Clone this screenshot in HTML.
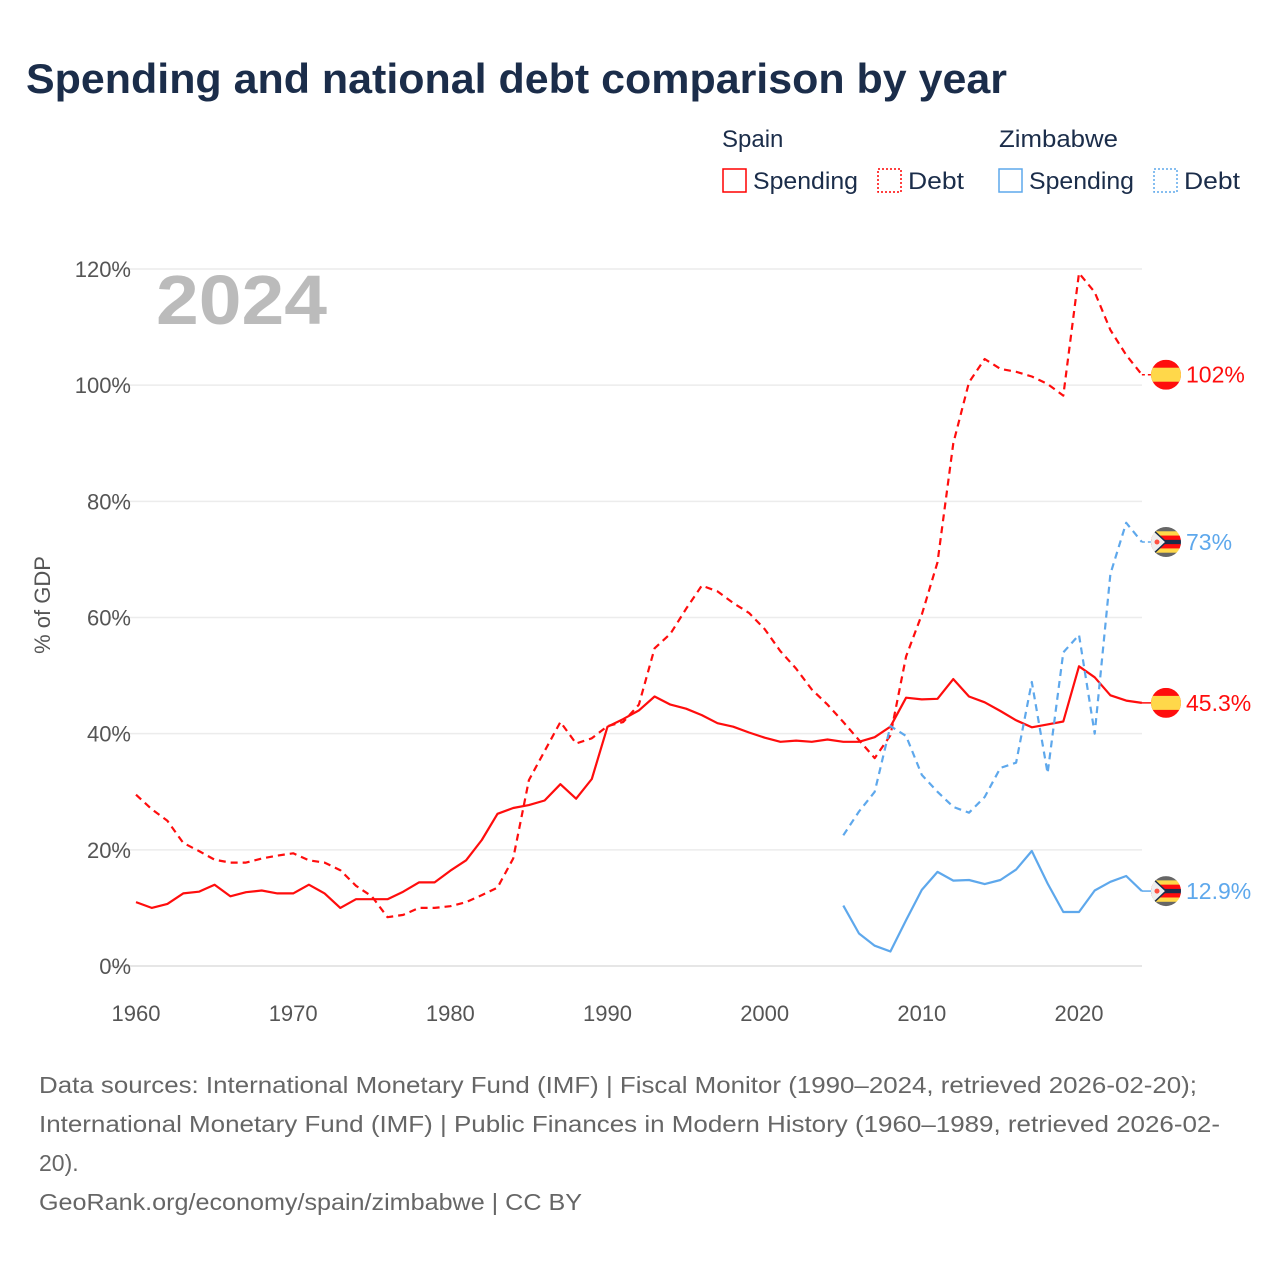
<!DOCTYPE html>
<html><head><meta charset="utf-8"><style>
body{margin:0;background:#fff;font-family:"Liberation Sans",sans-serif}
</style></head><body>
<svg width="1280" height="1280" viewBox="0 0 1280 1280" xmlns="http://www.w3.org/2000/svg" font-family="Liberation Sans, sans-serif">
<text x="26" y="93" font-size="42" font-weight="bold" fill="#1b2d4a" textLength="981" lengthAdjust="spacingAndGlyphs">Spending and national debt comparison by year</text>
<g font-size="24" fill="#1b2d4a">
<text x="722" y="147">Spain</text>
<rect x="723" y="169" width="23" height="23" fill="none" stroke="#ff0000" stroke-width="1.5"/>
<text x="753" y="189" textLength="105" lengthAdjust="spacingAndGlyphs">Spending</text>
<rect x="878" y="169" width="23" height="23" fill="none" stroke="#ff0000" stroke-width="1.5" stroke-dasharray="2,2"/>
<text x="908" y="189" textLength="56" lengthAdjust="spacingAndGlyphs">Debt</text>
<text x="999" y="147" textLength="119" lengthAdjust="spacingAndGlyphs">Zimbabwe</text>
<rect x="999" y="169" width="23" height="23" fill="none" stroke="#5ea8ec" stroke-width="1.5"/>
<text x="1029" y="189" textLength="105" lengthAdjust="spacingAndGlyphs">Spending</text>
<rect x="1154" y="169" width="23" height="23" fill="none" stroke="#5ea8ec" stroke-width="1.5" stroke-dasharray="2,2"/>
<text x="1184" y="189" textLength="56" lengthAdjust="spacingAndGlyphs">Debt</text>
</g>
<g id="grid"></g>
<text x="156" y="324" font-size="70" font-weight="bold" fill="#bbbbbb" textLength="171" lengthAdjust="spacingAndGlyphs">2024</text>
<text transform="translate(50,605) rotate(-90)" text-anchor="middle" font-size="22" fill="#555">% of GDP</text>
<g id="series"></g>
<g id="ends"></g>
<g font-size="23" fill="#666" lengthAdjust="spacingAndGlyphs">
<text x="39" y="1093" textLength="1158" lengthAdjust="spacingAndGlyphs">Data sources: International Monetary Fund (IMF) | Fiscal Monitor (1990–2024, retrieved 2026-02-20);</text>
<text x="39" y="1132" textLength="1181" lengthAdjust="spacingAndGlyphs">International Monetary Fund (IMF) | Public Finances in Modern History (1960–1989, retrieved 2026-02-</text>
<text x="39" y="1171">20).</text>
<text x="39" y="1210" textLength="543" lengthAdjust="spacingAndGlyphs">GeoRank.org/economy/spain/zimbabwe | CC BY</text>
</g>
</svg>
<script>
const yTicks=[0,20,40,60,80,100,120];
const xTicks=[1960,1970,1980,1990,2000,2010,2020];
const spainYears=[];for(let y=1960;y<=2024;y++)spainYears.push(y);
const zimYears=[];for(let y=2005;y<=2024;y++)zimYears.push(y);
const spainSpending=[11,10,10.7,12.5,12.8,14,12,12.7,13,12.5,12.5,14,12.5,10,11.5,11.5,11.5,12.8,14.4,14.4,16.4,18.2,21.7,26.2,27.2,27.7,28.5,31.3,28.8,32.2,41.2,42.5,44,46.4,45,44.3,43.2,41.8,41.2,40.2,39.3,38.6,38.8,38.6,39,38.6,38.6,39.4,41.2,46.2,45.9,46,49.4,46.4,45.4,43.9,42.3,41.1,41.6,42.1,51.6,49.7,46.6,45.7,45.3];
const spainDebt=[29.5,27,25,21.2,19.8,18.3,17.8,17.8,18.5,19,19.4,18.2,17.8,16.5,13.8,12,8.4,8.8,10,10,10.3,11,12.2,13.5,18.5,32,37,42,38.3,39.2,41.3,42,45,54.7,57.2,61.5,65.5,64.5,62.5,60.8,58,54.2,51.2,47.6,45,42,38.9,35.8,39.7,53.3,60.5,69.5,90,100.5,104.5,102.8,102.3,101.5,100.2,98.2,119.3,116,109.5,105.2,101.8];
const zimSpending=[10.4,5.6,3.5,2.5,7.9,13.1,16.2,14.7,14.8,14.1,14.8,16.6,19.8,14.2,9.3,9.3,13,14.5,15.5,12.9];
const zimDebt=[22.5,26.6,30,41.3,39.6,32.9,30,27.4,26.4,29.1,34.1,35,48.9,33.2,54,57,40,67.5,76.3,73];
const endLabels=["45.3%","102%","12.9%","73%"];
const NS="http://www.w3.org/2000/svg";
const X=y=>136+(y-1960)*(1079-136)/60;
const Y=v=>966-v*(966-269)/120;
function mk(t,a,p){const e=document.createElementNS(NS,t);for(const k in a)e.setAttribute(k,a[k]);p.appendChild(e);return e;}
const grid=document.getElementById('grid');
yTicks.forEach(v=>{
 const l=mk('line',{x1:110,x2:1142,y1:Y(v),y2:Y(v),stroke:v===0?'#ddd':'#ececec','stroke-width':1.5},grid);
 
 
 const t=mk('text',{x:131,y:Y(v)+8,'text-anchor':'end','font-size':22,fill:'#555'},grid);t.textContent=v+'%';
 
 
});
xTicks.forEach(y=>{
 const t=mk('text',{x:X(y),y:1021,'text-anchor':'middle','font-size':22,fill:'#555'},grid);t.textContent=y;
 
 
});
const series=document.getElementById('series');
function line(years,vals,color,dash,name){
 const d=vals.map((v,i)=>(i?'L':'M')+X(years[i]).toFixed(1)+','+Y(v).toFixed(1)).join(' ');
 const p=mk('path',{d:d,fill:'none',stroke:color,'stroke-width':2.2,'stroke-dasharray':dash?'7,5':'none','stroke-linejoin':'round'},series);
 
 
}
line(spainYears,spainDebt,'#ff0d0d',true,'spain-debt-line');
line(spainYears,spainSpending,'#ff0d0d',false,'spain-spending-line');
line(zimYears,zimDebt,'#5ea8ec',true,'zimbabwe-debt-line');
line(zimYears,zimSpending,'#5ea8ec',false,'zimbabwe-spending-line');
const ends=document.getElementById('ends');
const lastVals=[spainSpending[spainSpending.length-1],spainDebt[spainDebt.length-1],zimSpending[zimSpending.length-1],zimDebt[zimDebt.length-1]];
lastVals.forEach((v,i)=>{
 const spain=i<2,col=spain?'#ff0d0d':'#5ea8ec',y=Y(v);
 mk('line',{x1:X(2024),x2:1152,y1:y,y2:y,stroke:col,'stroke-width':1.5,'stroke-dasharray':i%2?'3,3':'none'},ends);
 const g=mk('g',{},ends);
 
 
 const cid='c'+i;
 const cp=mk('clipPath',{id:cid},g);mk('circle',{cx:1166,cy:y,r:15},cp);
 const f=mk('g',{'clip-path':'url(#'+cid+')'},g);
 if(spain){mk('rect',{x:1150,y:y-15,width:32,height:30,fill:'#ff0d0d'},f);mk('rect',{x:1150,y:y-7,width:32,height:14,fill:'#ffd84a'},f);}
 else{const cs=['#666','#ffd84a','#ff0d0d','#1b2d4a','#ff0d0d','#ffd84a','#666'];cs.forEach((c,k)=>mk('rect',{x:1150,y:y-15+k*30/7,width:32,height:30/7+0.5,fill:c},f));
  mk('path',{d:`M1150,${y-15} L1166,${y} L1150,${y+15}Z`,fill:'#eee',stroke:'#1b2d4a','stroke-width':1.5},f);
  mk('circle',{cx:1157,cy:y,r:2.5,fill:'#ff5040'},f);}
 const t=mk('text',{x:1186,y:y+8,'font-size':23,fill:col},ends);t.textContent=endLabels[i];
 
 
});
</script>
</body></html>
